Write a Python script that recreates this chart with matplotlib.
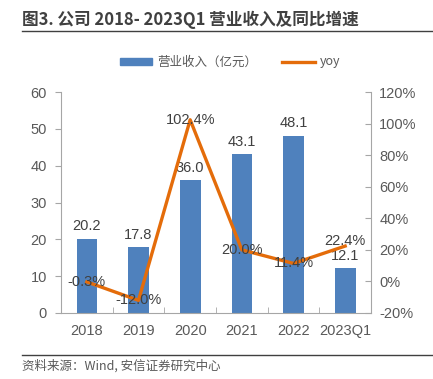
import numpy as np
import matplotlib.pyplot as plt
from matplotlib.lines import Line2D

plt.rcParams['font.family'] = ['Liberation Sans', 'Noto Sans CJK SC', 'DejaVu Sans']

years = ['2018', '2019', '2020', '2021', '2022', '2023Q1']
revenue = [20.2, 17.8, 36.0, 43.1, 48.1, 12.1]
yoy = [-0.3, -12.0, 102.4, 20.0, 11.4, 22.4]

bar_c = '#4F81BD'
line_c = '#E46C0A'
gray = '#595959'
spine_c = '#A6A6A6'

fig = plt.figure(figsize=(4.33, 3.79), dpi=100)
ax = fig.add_axes([61/433, 1-313/379, 310/433, 221/379])
x = np.arange(len(years))
ax.bar(x, revenue, width=0.4, color=bar_c, zorder=2)
ax.set_xlim(-0.5, len(years)-0.5)
ax.set_ylim(0, 60)
ax.set_yticks(range(0, 61, 10))
ax.set_xticks(x)
ax.set_xticklabels(years)
ax.set_xticks(np.arange(-0.5, len(years), 1), minor=True)
ax.tick_params(axis='x', which='major', length=0, colors=gray, labelsize=10.5, pad=8)
ax.tick_params(axis='x', which='minor', length=4, direction='in', color=spine_c)
ax.tick_params(axis='y', length=4, color=spine_c, colors=gray, labelsize=10.5, pad=6)
for s in ['top', 'right']:
    ax.spines[s].set_visible(False)
for s in ['left', 'bottom']:
    ax.spines[s].set_color(spine_c)
for i, v in enumerate(revenue):
    ax.annotate('%.1f' % v, (i, v), xytext=(0, 4), textcoords='offset points',
                ha='center', va='bottom', fontsize=10.5, color='#404040')

ax2 = ax.twinx()
ax2.plot(x, yoy, color=line_c, lw=2.4, zorder=3)
ax2.set_ylim(-20, 120)
ax2.set_yticks(range(-20, 121, 20))
ax2.set_yticklabels(['%d%%' % t for t in range(-20, 121, 20)])
ax2.tick_params(axis='y', length=4, direction='in', color=spine_c, colors=gray, labelsize=10.5, pad=6)
for s in ['top', 'left', 'bottom']:
    ax2.spines[s].set_visible(False)
ax2.spines['right'].set_color(spine_c)
# label offsets in points (last one sits a bit higher in the reference)
yoy_dy = [0, 0, 0, 0, 0, 4]
for i, v in enumerate(yoy):
    ax2.annotate('%.1f%%' % v, (i, v), xytext=(0, yoy_dy[i]), textcoords='offset points',
                 ha='center', va='center', fontsize=10.5, color='#404040', zorder=4)

# title and rules
fig.text(22/433, 1-20/379, '图3. 公司 2018- 2023Q1 营业收入及同比增速', fontsize=12, fontweight='bold',
         color='#404040', va='center', family=['Noto Sans CJK SC', 'DejaVu Sans'])
fig.add_artist(Line2D([22/433, 1], [1-31/379, 1-31/379], color='#404040', lw=1))
fig.add_artist(Line2D([22/433, 1], [1-355/379, 1-355/379], color='#404040', lw=1))
fig.text(22/433, 1-366/379, '资料来源：Wind, 安信证券研究中心', fontsize=9, style='italic',
         color=gray, va='center', family=['Noto Sans CJK SC', 'DejaVu Sans'])

handles = [plt.Rectangle((0, 0), 1, 1, color=bar_c), Line2D([], [], color=line_c, lw=2.4)]
fig.legend(handles, ['营业收入（亿元）', 'yoy'], loc='center', bbox_to_anchor=(230/433, 1-62/379),
           ncol=2, frameon=False, handlelength=2.6, handleheight=0.5, columnspacing=2,
           handletextpad=0.4, labelcolor=gray,
           prop={'family': ['Noto Sans CJK SC', 'DejaVu Sans'], 'size': 9})

fig.savefig('out.png', dpi=100)
